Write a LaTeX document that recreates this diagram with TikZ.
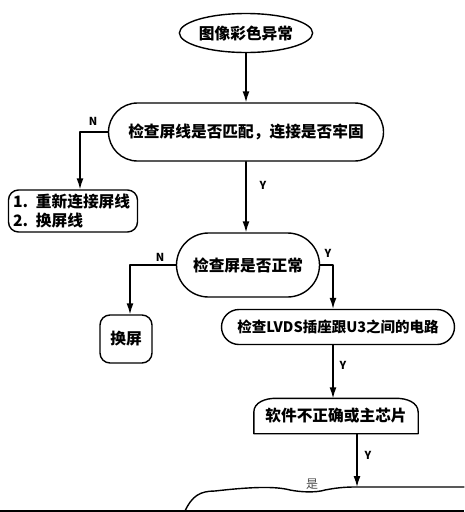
\documentclass[tikz,border=0pt]{standalone}
\usepackage{fontspec}
\setmainfont{Noto Sans CJK SC}
\usetikzlibrary{arrows.meta,shapes.geometric,shapes.misc}

\begin{document}
\begin{tikzpicture}[x=1pt, y=-1pt, line width=1.4pt, line cap=round, line join=round,
  arr/.style={-{Latex[length=11pt,width=7pt]}},
  txt/.style={font=\fontsize{15.7}{18.5}\selectfont\bfseries, inner sep=0pt},
  stadium/.style={txt, draw, rounded rectangle},
  boxr/.style={txt, draw, rounded corners=10pt},
  yn/.style={font=\fontsize{11}{13}\selectfont\bfseries, inner sep=0pt}]

  %% ---- nodes ----
  \node[txt, draw, ellipse, minimum width=115pt, minimum height=39pt] (img) at (246,33) {图像彩色异常};
  \node[stadium, minimum width=275pt, minimum height=58pt] (chk1) at (246,132) {检查屏线是否匹配，连接是否牢固};
  \node[boxr, align=left, minimum width=129pt, minimum height=42pt, text width=120pt] (fix1) at (73,211) {1. 重新连接屏线\\2. 换屏线};
  \node[stadium, minimum width=143pt, minimum height=64pt] (chk2) at (248,265) {检查屏是否正常};
  \node[boxr, minimum width=52pt, minimum height=48pt] (scr) at (126,339) {换屏};
  \node[stadium, minimum width=233pt, minimum height=35pt, font=\fontsize{14.5}{17}\selectfont\bfseries] (lvds) at (338,327) {检查LVDS插座跟U3之间的电路};
  \node[txt, minimum width=163pt, minimum height=34pt] (soft) at (336,416) {软件不正确或主芯片};
  \coordinate (bot) at (357,487);

  % box with rounded top only
  \draw (soft.south west) -- ([yshift=-14pt]soft.north west) to[out=90,in=180] ([xshift=22pt]soft.north west)
    -- ([xshift=-22pt]soft.north east) to[out=0,in=90] ([yshift=-14pt]soft.north east) -- (soft.south east) -- cycle;

  % cut off shape at the bottom
  \draw (185,511) .. controls (192,496) and (200,491) .. (215,491)
    .. controls (250,487) and (275,486) .. (290,490) .. controls (300,492) and (315,493) .. (325,490)
    .. controls (340,487) and (350,487) .. (bot) -- (464,487);
  \node[font=\fontsize{12}{14}\selectfont, text=black!70, inner sep=0pt] (shi) at (312,484) {是};

  %% ---- connectors ----
  \draw[arr] (img) -- (chk1);
  \draw[arr] (chk1.west) -| ([xshift=7pt]fix1.north);
  \draw[arr] (chk1.south) -- (chk2.north -| chk1.south);
  \draw[arr] (chk2.west) -| ([xshift=4pt]scr.north);
  \draw[arr] (chk2.east) -| ([xshift=-5pt]lvds.north);
  \draw[arr] ([xshift=-5pt]lvds.south) -- ([xshift=-5pt]lvds.south |- soft.north);
  \draw[arr] ([xshift=21pt]soft.south) -- (bot);

  %% ---- Y / N ----
  \node[yn] (n1) at (93,121) {N};
  \node[yn] (y1) at (263,185) {Y};
  \node[yn] (n2) at (160,257) {N};
  \node[yn] (y2) at (328,253) {Y};
  \node[yn] (y3) at (343,365) {Y};
  \node[yn] (y4) at (368,455) {Y};

  % bottom edge of the scan
  \draw[line width=1.6pt, line cap=butt] (0,511) -- (464,511);

  \pgfresetboundingbox
  \path[use as bounding box] (0,0) rectangle (464,512);
\end{tikzpicture}
\end{document}
